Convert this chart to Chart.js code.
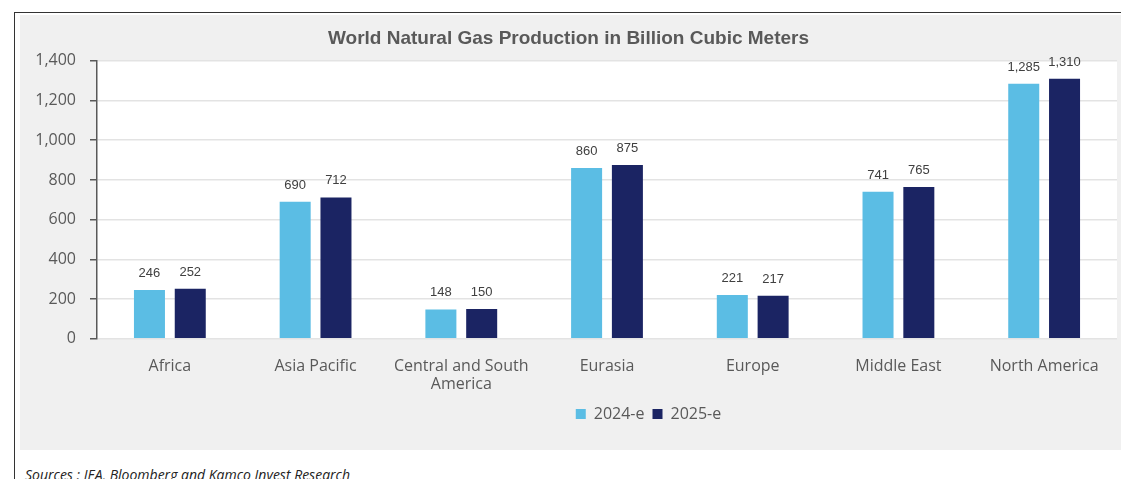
<!DOCTYPE html>
<html>
<head>
<meta charset="utf-8">
<script src="https://cdn.jsdelivr.net/npm/chart.js@4.4.1/dist/chart.umd.min.js"></script>
<style>
  html, body { margin: 0; padding: 0; background: #ffffff; }
  body { width: 1131px; height: 479px; position: relative; overflow: hidden; }
  #frameTop { position: absolute; left: 14px; top: 12px; width: 1107px; height: 1px; background: #333; }
  #frameLeft { position: absolute; left: 14px; top: 12px; width: 1px; height: 467px; background: #333; }
  #panel { position: absolute; left: 20px; top: 15px; width: 1101px; height: 435px; background: #f0f0f0; }
  #sources { position: absolute; left: 25px; top: 465px; font: italic 14px "Open Sans", sans-serif; color: #222; }
</style>
</head>
<body>
<div id="frameTop"></div>
<div id="frameLeft"></div>
<div id="panel"><canvas id="gasChart"></canvas></div>
<div id="sources">Sources : IEA, Bloomberg and Kamco Invest Research</div>
<script>
  // 數據
  const regions = ['Africa', 'Asia Pacific', ['Central and South', 'America'], 'Eurasia', 'Europe', 'Middle East', 'North America'];
  const prod2024 = [246, 690, 148, 860, 221, 741, 1285];
  const prod2025 = [252, 712, 150, 875, 217, 765, 1310];
  const yTicks = [0, 200, 400, 600, 800, 1000, 1200, 1400];

  // 白色繪圖區背景
  const plotBg = {
    id: 'plotBg',
    beforeDraw(chart) {
      const { ctx, chartArea } = chart;
      ctx.save();
      ctx.fillStyle = '#ffffff';
      ctx.fillRect(chartArea.left, chartArea.top, chartArea.right - chartArea.left, chartArea.bottom - chartArea.top);
      ctx.restore();
    }
  };

  // 柱狀圖上方的數值
  const barLabels = {
    id: 'barLabels',
    afterDatasetsDraw(chart) {
      const ctx = chart.ctx;
      ctx.save();
      ctx.font = '13px "Liberation Sans", Arial, sans-serif';
      ctx.fillStyle = '#404040';
      ctx.textAlign = 'center';
      ctx.textBaseline = 'bottom';
      chart.data.datasets.forEach((ds, i) => {
        chart.getDatasetMeta(i).data.forEach((bar, j) => {
          ctx.fillText(ds.data[j].toLocaleString('en-US'), bar.x, bar.y - 10);
        });
      });
      ctx.restore();
    }
  };

  // 圖例稍微向右上移
  const legendShift = {
    id: 'legendShift',
    afterLayout(chart) {
      chart.legend.left += 80;
      chart.legend.right += 80;
      chart.legend.top -= 6;
      chart.legend.bottom -= 6;
    }
  };

  const ctx = document.getElementById('gasChart');
  ctx.width = 1101;
  ctx.height = 435;

  new Chart(ctx, {
    type: 'bar',
    data: {
      labels: regions,
      datasets: [
        { label: '2024-e', data: prod2024, backgroundColor: '#5bbde4' },
        { label: '2025-e', data: prod2025, backgroundColor: '#1b2463' }
      ]
    },
    options: {
      responsive: false,
      animation: false,
      layout: { padding: { left: 0, right: 4, top: 0, bottom: 12 } },
      datasets: {
        bar: { categoryPercentage: 0.56, barPercentage: 0.76 }
      },
      plugins: {
        title: {
          display: true,
          text: 'World Natural Gas Production in Billion Cubic Meters',
          color: '#595959',
          font: { family: '"Liberation Sans", Arial, sans-serif', size: 19, weight: 'bold' },
          padding: { top: 12, bottom: 11 }
        },
        legend: {
          position: 'bottom',
          labels: {
            color: '#595959',
            font: { family: '"Open Sans", sans-serif', size: 16 },
            boxWidth: 10,
            boxHeight: 10,
            padding: 8
          }
        },
        tooltip: { enabled: false }
      },
      scales: {
        x: {
          grid: { display: false },
          border: { display: false },
          ticks: {
            color: '#595959',
            font: { family: '"Open Sans", sans-serif', size: 16, lineHeight: 1.1 },
            padding: 11,
            maxRotation: 0
          }
        },
        y: {
          min: 0,
          max: 1400,
          afterBuildTicks(axis) {
            axis.ticks = yTicks.map(v => ({ value: v }));
          },
          afterFit(axis) { axis.width = 77; },
          grid: { color: '#e3e3e3', lineWidth: 1.5, tickColor: '#595959', tickLength: 7 },
          border: { color: '#595959', width: 1.5 },
          ticks: {
            color: '#595959',
            font: { family: '"Open Sans", sans-serif', size: 16 },
            padding: 14,
            callback: v => v.toLocaleString('en-US')
          }
        }
      }
    },
    plugins: [plotBg, barLabels, legendShift]
  });
</script>
</body>
</html>
